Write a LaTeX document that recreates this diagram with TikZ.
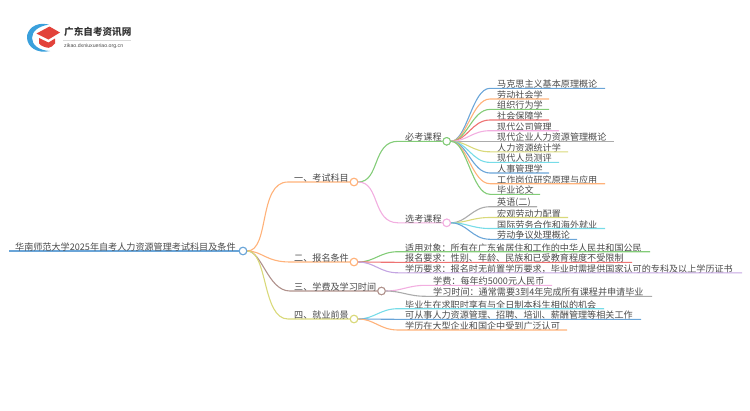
\documentclass[tikz,border=0pt]{standalone}
\usepackage{fontspec}
\setmainfont{Noto Sans CJK SC}
\newfontfamily\latinsmall{Liberation Sans}
\usetikzlibrary{calc}
\definecolor{cblue}{HTML}{6AA5D8}
\definecolor{corange}{HTML}{FFB27A}
\definecolor{cgreen}{HTML}{83CC78}
\definecolor{cred}{HTML}{EE7373}
\definecolor{cpink}{HTML}{F2AEE0}
\definecolor{cgrey}{HTML}{ABABAB}
\definecolor{cyellow}{HTML}{D9D97A}
\definecolor{ccyan}{HTML}{77DCE8}
\definecolor{cbrown}{HTML}{B0928C}
\definecolor{cpurple}{HTML}{C4A5E2}
\definecolor{ctext}{HTML}{4A4A4A}
\definecolor{logoblue}{RGB}{58,160,220}
\definecolor{logored}{RGB}{226,66,58}
\tikzset{
  lbl/.style={anchor=west,inner sep=0pt,text=ctext,font=\fontsize{9.1}{10}\selectfont},
  hub/.style={circle,draw=#1,fill=white,line width=1pt,minimum size=7.5pt,inner sep=0pt},
  wire/.style={draw=#1,line width=1.1pt}
}
% name, parent, curve end x, text x, y, line end x, colour, text
\newcommand{\branch}[8]{%
  \coordinate (#1s) at (#3,#5);
  \coordinate (#1e) at (#6,#5);
  \node[lbl] (#1) at (#4,#5-3.9) {#8};
  \draw[wire=#7] (#2.east) .. controls +(16,0) and ($(#1s)+(-18,0)$) .. (#1s) -- (#1e);
}
\newcommand{\hubat}[4]{\node[hub=#2] (#1) at (#3,#4) {};}
\begin{document}
\begin{tikzpicture}[x=1pt,y=-1pt]
\useasboundingbox (0,0) rectangle (750,410);
% logo
\fill[logoblue] (49,24.6) .. controls (35,21) and (26.5,30) .. (27,38) .. controls (27.5,47) and (37,54) .. (50,51) .. controls (39,50.5) and (32,45) .. (32,38) .. controls (32,31) and (39,26) .. (49,24.6) -- cycle;
\fill[logored] (36.5,33.5) -- (49.5,26.5) -- (60,32.5) -- (48.5,39.5) -- cycle;
\fill[logored] (39,38) -- (48.5,42.5) -- (55,38.5) -- (55,43.5) .. controls (53,46) and (51,47.5) .. (48.5,47.8) .. controls (45,47.5) and (41,46) .. (39,43.5) -- cycle;
\node[anchor=west,inner sep=0pt,text=black!80,font=\fontsize{9.6}{10}\selectfont\bfseries] (brand) at (64,31.5) {广东自考资讯网};
\coordinate (ruleA) at (63,40);
\coordinate (ruleB) at (131,40);
\draw[black!15,line width=.5pt] (ruleA) -- (ruleB);
\node[anchor=west,inner sep=0pt,text=black!70,font=\latinsmall\fontsize{5.2}{6}\selectfont] (site) at (64,46.5) {zikao.dxniuxueriao.org.cn};
% root
\node[hub=cblue] (root) at (243,251) {};
\coordinate (rootL) at (9,251);
\draw[cblue,line width=1.8pt] (rootL) -- (root.west);
\node[lbl] (roottext) at (15,247) {华南师范大学2025年自考人力资源管理考试科目及条件};
% level 1
\hubat{a}{corange}{354}{182}
\hubat{b}{corange}{354}{262}
\hubat{c}{cbrown}{381.5}{291}
\hubat{d}{cyellow}{354}{319}
\hubat{a1}{cgreen}{446.7}{141.3}
\hubat{a2}{cpink}{446.7}{222.8}
\draw[wire=corange] (root.east) .. controls (270,251) and (258,182) .. (288,182) -- (a.west);
\draw[wire=corange] (root.east) .. controls (262,251) and (266,262) .. (290,262) -- (b.west);
\draw[wire=cbrown] (root.east) .. controls (262,251) and (268,291) .. (290,291) -- (c.west);
\draw[wire=cyellow] (root.east) .. controls (268,251) and (262,319) .. (288,319) -- (d.west);
\node[lbl] (at) at (294,178) {一、考试科目};
\node[lbl] (bt) at (294,258) {二、报名条件};
\node[lbl] (ct) at (294,287) {三、学费及学习时间};
\node[lbl] (dt) at (294,315) {四、就业前景};
\draw[wire=cgreen] (a.east) .. controls (380,182) and (372,141.3) .. (398,141.3) -- (a1.west);
\draw[wire=cpink] (a.east) .. controls (380,182) and (372,222.8) .. (398,222.8) -- (a2.west);
\node[lbl] (a1t) at (405,137.3) {必考课程};
\node[lbl] (a2t) at (405,218.8) {选考课程};
% leaves
\branch{l1}{a1}{490}{497}{88.3}{605}{cblue}{马克思主义基本原理概论}
\branch{l2}{a1}{490}{497}{99}{549}{corange}{劳动社会学}
\branch{l3}{a1}{490}{497}{109.4}{549}{cgreen}{组织行为学}
\branch{l4}{a1}{490}{497}{120}{549}{cred}{社会保障学}
\branch{l5}{a1}{490}{497}{130.7}{559}{cpink}{现代公司管理}
\branch{l6}{a1}{490}{497}{141.3}{614}{cgrey}{现代企业人力资源管理概论}
\branch{l7}{a1}{490}{497}{151.8}{568}{cyellow}{人力资源统计学}
\branch{l8}{a1}{490}{497}{162.4}{559}{ccyan}{现代人员测评}
\branch{l9}{a1}{490}{497}{173}{549}{cblue}{人事管理学}
\branch{l10}{a1}{490}{497}{183.7}{605}{corange}{工作岗位研究原理与应用}
\branch{l11}{a1}{490}{497}{194.3}{540}{cgreen}{毕业论文}
\branch{m1}{a2}{490}{497}{206.7}{537}{cgrey}{英语(二)}
\branch{m2}{a2}{490}{497}{217.5}{568}{cyellow}{宏观劳动力配置}
\branch{m3}{a2}{490}{497}{228.5}{605}{ccyan}{国际劳务合作和海外就业}
\branch{m4}{a2}{490}{497}{239.3}{577}{cblue}{劳动争议处理概论}
\branch{n1}{b}{398}{405}{251.7}{650}{cgreen}{适用对象：所有在广东省居住和工作的中华人民共和国公民}
\branch{n2}{b}{398}{405}{262.3}{632}{cred}{报名要求：性别、年龄、民族和已受教育程度不受限制}
\branch{n3}{b}{398}{405}{272.8}{742}{cpurple}{学历要求：报名时无前置学历要求，毕业时需提供国家认可的专科及以上学历证书}
\branch{o1}{c}{426}{433}{285.3}{552}{cpink}{学费：每年约5000元人民币}
\branch{o2}{c}{426}{433}{296.3}{652}{cgrey}{学习时间：通常需要3到4年完成所有课程并申请毕业}
\branch{p1}{d}{398}{405}{308.7}{604}{ccyan}{毕业生在求职时享有与全日制本科生相似的机会}
\branch{p2}{d}{398}{405}{319.3}{641}{cblue}{可从事人力资源管理、招聘、培训、薪酬管理等相关工作}
\branch{p3}{d}{398}{405}{330}{567}{corange}{学历在大型企业和国企中受到广泛认可}
% hubs on top of the wires
\foreach \h/\c in {root/cblue,a/corange,b/corange,c/cbrown,d/cyellow,a1/cgreen,a2/cpink}
  \draw[\c,fill=white,line width=1pt] (\h) circle (3.75pt);
\end{tikzpicture}
\end{document}
